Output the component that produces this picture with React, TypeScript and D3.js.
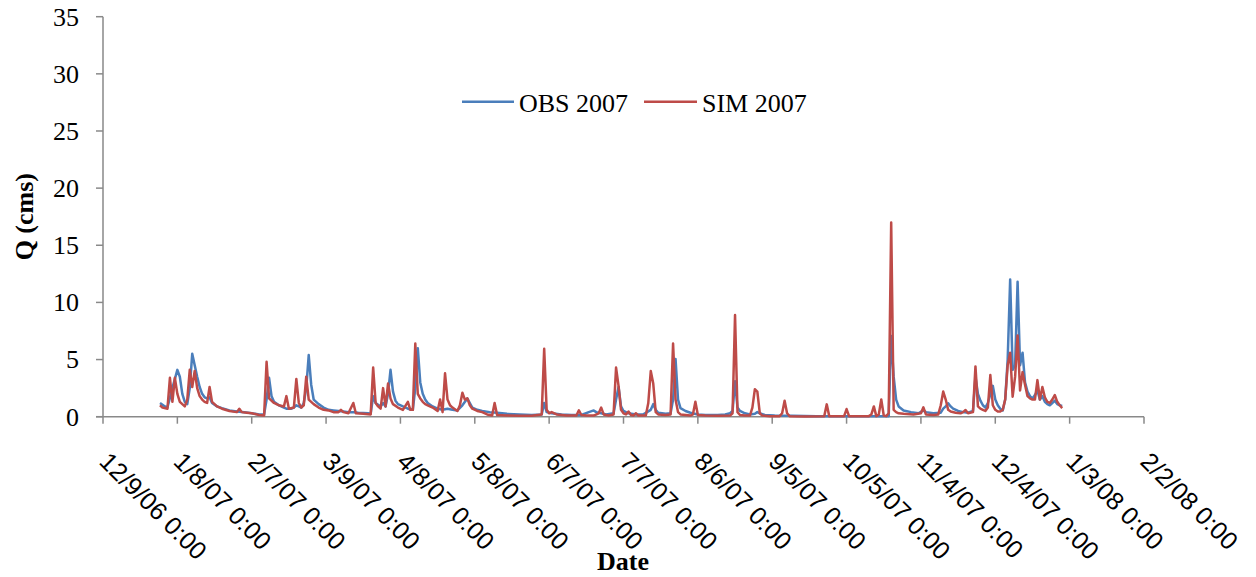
import React from "react";
import * as d3 from "d3";

// ---- data (day index from 1 Jan 2007, discharge in cms) ----
const obsDay = [0,2,3,5,7,8,9,10,11,12,13,14,15,16,17,18,19,20,21,23,25,28,31,34,37,40,42,43,44,45,46,48,50,51,53,54,55,56,57,58,59,60,61,62,64,66,68,70,72,74,76,78,80,84,85,86,87,89,90,91,92,93,94,95,96,98,100,102,103,104,105,106,107,108,110,112,114,116,118,120,122,124,125,126,128,130,133,136,140,145,150,154,155,156,158,162,166,170,173,175,176,178,180,183,184,185,186,187,189,192,195,198,199,200,201,204,206,207,208,209,210,212,214,217,220,225,228,230,231,232,233,234,236,238,240,241,242,244,248,255,265,280,294,295,296,297,298,300,303,306,308,309,312,315,316,317,318,319,320,322,324,326,328,329,330,331,332,333,334,336,337,338,339,340,341,342,343,344,345,346,347,348,349,350,351,352,353,354,355,356,357,358,359,360,361,362,363,364];
const obsQ = [1.2,0.9,0.8,2.5,4.1,3.5,2.0,1.3,1.1,2.5,5.5,4.5,3.5,2.6,2.0,1.7,1.6,1.7,1.2,0.9,0.75,0.55,0.45,0.4,0.3,0.2,0.2,1.5,3.4,1.8,1.3,1.0,0.8,0.7,0.7,0.8,1.0,0.9,0.8,1.2,2.5,5.4,2.8,1.5,1.1,0.8,0.6,0.55,0.5,0.45,0.4,0.4,0.35,0.3,0.25,1.8,1.2,0.9,1.2,0.9,2.0,4.1,2.2,1.4,1.1,0.9,0.7,0.6,2.5,6.0,3.0,2.0,1.5,1.2,0.9,0.7,0.6,0.7,0.6,0.55,1.0,1.6,1.2,0.8,0.6,0.5,0.4,0.35,0.25,0.2,0.15,0.2,1.2,0.4,0.3,0.2,0.15,0.15,0.4,0.55,0.4,0.3,0.2,0.3,1.5,2.6,0.9,0.5,0.3,0.2,0.2,0.6,1.1,0.6,0.35,0.25,0.3,1.5,5.05,1.5,0.75,0.5,0.35,0.2,0.15,0.15,0.2,0.3,0.5,3.1,0.8,0.5,0.3,0.2,0.25,0.4,0.3,0.15,0.1,0.08,0.05,0.05,0.05,7.06,3.5,1.5,0.9,0.55,0.4,0.3,0.55,0.4,0.3,0.35,0.7,0.9,1.17,0.9,0.7,0.5,0.4,0.35,0.5,3.5,2.0,1.4,1.0,0.8,1.2,2.7,1.5,1.0,0.7,0.55,1.5,5.0,12.0,4.1,4.5,11.8,4.5,5.6,3.0,2.2,1.8,1.6,1.9,2.3,1.5,1.8,1.3,1.1,1.0,1.2,1.4,1.1,1.0,0.95];

const simDay = [0,1,3,4,5,6,7,8,10,11,12,13,14,15,16,17,18,19,20,21,23,25,28,31,32,33,35,37,40,42,43,44,46,48,50,51,52,54,55,56,57,58,59,60,62,64,66,68,70,72,73,74,76,78,79,82,85,86,87,88,89,90,91,92,93,94,96,98,100,101,102,103,104,105,106,107,108,110,112,113,114,115,116,117,118,120,121,122,123,124,125,126,128,130,132,134,135,136,140,145,150,154,155,156,157,158,160,164,168,169,170,172,175,177,178,179,181,183,184,185,186,187,188,189,190,191,192,193,196,197,198,199,200,201,204,206,207,208,209,210,212,214,215,216,217,220,225,230,231,232,233,234,236,238,239,240,241,242,243,246,250,251,252,253,254,260,268,269,270,276,277,278,286,287,288,289,290,291,292,293,294,295,296,297,298,300,304,307,308,309,312,314,315,316,317,318,319,321,323,324,325,326,328,329,330,331,332,333,334,335,336,337,338,339,340,341,342,343,344,345,346,347,348,349,350,351,352,353,354,355,356,357,358,359,360,361,362,363,364];
const simQ = [1.0,0.8,0.7,3.4,1.3,3.4,2.0,1.3,0.9,1.5,4.1,2.6,4.0,2.5,1.8,1.5,1.3,1.2,2.6,1.3,0.9,0.7,0.5,0.4,0.7,0.4,0.35,0.3,0.15,0.1,4.8,1.6,1.2,1.0,0.9,1.8,0.7,0.8,3.3,1.2,0.8,1.0,3.5,1.5,1.1,0.8,0.6,0.55,0.4,0.4,0.6,0.4,0.3,1.2,0.3,0.25,0.2,4.3,1.2,0.9,0.7,2.5,0.9,2.9,1.6,1.1,0.8,0.6,1.3,0.6,0.6,6.4,2.0,1.6,1.3,1.1,1.0,0.8,0.5,1.5,0.4,3.8,1.5,1.0,0.8,0.5,1.0,2.1,1.5,1.6,1.0,0.7,0.5,0.4,0.2,0.1,1.2,0.15,0.1,0.08,0.08,0.2,5.95,0.6,0.3,0.4,0.2,0.1,0.1,0.55,0.15,0.1,0.1,0.3,0.8,0.2,0.1,0.2,4.3,2.7,0.6,0.3,0.2,0.45,0.15,0.1,0.3,0.1,0.1,1.2,4.0,2.9,0.4,0.2,0.15,0.2,6.4,1.5,0.4,0.2,0.15,0.1,0.2,1.3,0.15,0.1,0.08,0.1,0.3,8.9,0.4,0.15,0.1,0.1,0.8,2.4,2.2,0.3,0.1,0.05,0.05,0.3,1.4,0.3,0.05,0.02,0.05,1.08,0.05,0.05,0.67,0.05,0.05,0.2,0.9,0.05,0.2,1.5,0.1,0.05,0.3,17.0,0.6,0.4,0.3,0.25,0.2,0.3,0.82,0.2,0.15,0.2,1.0,2.2,1.5,0.6,0.45,0.35,0.3,0.4,0.58,0.3,0.4,4.4,0.9,0.7,0.6,0.5,0.8,3.65,1.0,0.6,0.45,0.45,0.6,1.5,4.5,5.6,1.75,3.5,7.1,2.3,3.9,2.8,1.8,1.6,1.5,1.5,3.2,1.5,2.6,1.7,1.3,1.2,1.5,1.9,1.3,1.0,0.75];

const xTickDates = ["2006-12-09","2007-01-08","2007-02-07","2007-03-09","2007-04-08","2007-05-08","2007-06-07","2007-07-07","2007-08-06","2007-09-05","2007-10-05","2007-11-04","2007-12-04","2008-01-03","2008-02-02"];
const yTicks = [0, 5, 10, 15, 20, 25, 30, 35];
const seriesNames = ["OBS 2007", "SIM 2007"];

const OBS_COLOR = "#4A7EBB";
const SIM_COLOR = "#BE4B48";
const AXIS_COLOR = "#898989";

export default function App() {
  const parse = d3.utcParse("%Y-%m-%d");
  const fmt = d3.utcFormat("%-m/%-d/%y %-H:%M");
  const tickDates = xTickDates.map((s) => parse(s) as Date);
  const x = d3.scaleUtc().domain([tickDates[0], tickDates[tickDates.length - 1]]).range([103, 1144]);
  const y = d3.scaleLinear().domain([0, 35]).range([416.7, 16.7]);
  const dayDate = (d: number) => new Date(Date.UTC(2007, 0, 1 + d));

  const line = d3
    .line<[number, number]>()
    .x((p) => x(dayDate(p[0])))
    .y((p) => y(p[1]));

  const obsPts = obsDay.map((d, i) => [d, obsQ[i]] as [number, number]);
  const simPts = simDay.map((d, i) => [d, simQ[i]] as [number, number]);

  const serif = "'Liberation Serif', 'Times New Roman', serif";
  const sans = "'Liberation Sans', Arial, sans-serif";
  const y0 = y(0);

  return (
    <svg width={1256} height={577} style={{ position: "absolute", left: 0, top: 0, background: "#fff" }}>
      {/* y axis */}
      <line x1={103} x2={103} y1={y(35)} y2={y0} stroke={AXIS_COLOR} strokeWidth={1.5} />
      {yTicks.map((t) => (
        <g key={t}>
          <line x1={96} x2={103} y1={y(t)} y2={y(t)} stroke={AXIS_COLOR} strokeWidth={1.5} />
          <text x={79} y={y(t) + 8.8} textAnchor="end" fontFamily={serif} fontSize={26} fill="#000">
            {t}
          </text>
        </g>
      ))}
      {/* x axis */}
      <line x1={96} x2={1144} y1={y0} y2={y0} stroke={AXIS_COLOR} strokeWidth={1.5} />
      {tickDates.map((d, i) => (
        <g key={i}>
          <line x1={x(d)} x2={x(d)} y1={y0} y2={y0 + 7} stroke={AXIS_COLOR} strokeWidth={1.5} />
          <text
            transform={`translate(${x(d) - 5},${463}) rotate(45)`}
            textAnchor="start"
            fontFamily={sans}
            fontSize={25}
            fill="#000"
          >
            {fmt(d)}
          </text>
        </g>
      ))}
      {/* series */}
      <path d={line(obsPts) || ""} fill="none" stroke={OBS_COLOR} strokeWidth={2.5} strokeLinejoin="round" />
      <path d={line(simPts) || ""} fill="none" stroke={SIM_COLOR} strokeWidth={2.5} strokeLinejoin="round" />
      {/* axis titles */}
      <text
        transform={`translate(33,${(y(35) + y0) / 2}) rotate(-90)`}
        textAnchor="middle"
        fontFamily={serif}
        fontWeight="bold"
        fontSize={26}
        fill="#000"
      >
        Q (cms)
      </text>
      <text x={623} y={570} textAnchor="middle" fontFamily={serif} fontWeight="bold" fontSize={26} fill="#000">
        Date
      </text>
      {/* legend */}
      <line x1={462} x2={514} y1={101.7} y2={101.7} stroke={OBS_COLOR} strokeWidth={2.5} />
      <text x={519} y={112.3} fontFamily={serif} fontSize={26} fill="#000">
        {seriesNames[0]}
      </text>
      <line x1={644} x2={697} y1={101.7} y2={101.7} stroke={SIM_COLOR} strokeWidth={2.5} />
      <text x={702} y={112.3} fontFamily={serif} fontSize={26} fill="#000">
        {seriesNames[1]}
      </text>
    </svg>
  );
}
